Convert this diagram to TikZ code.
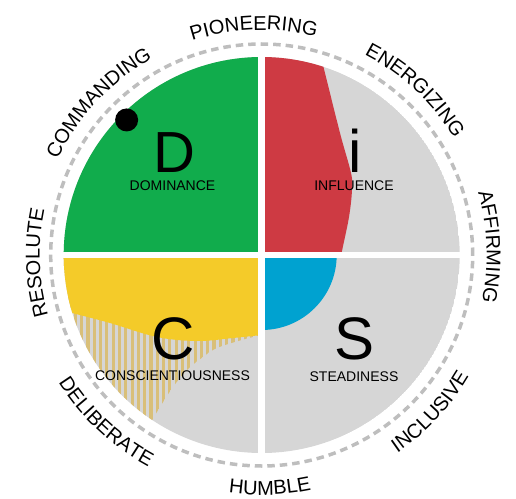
\documentclass[tikz,border=0pt]{standalone}
\usepackage{fontspec}
\setmainfont{Liberation Sans}
\usetikzlibrary{decorations.text}
\definecolor{discgreen}{HTML}{11AC4C}
\definecolor{discred}{HTML}{CE3A43}
\definecolor{discgray}{HTML}{D6D6D6}
\definecolor{discblue}{HTML}{00A2D0}
\definecolor{discyellow}{HTML}{F4CB29}
\definecolor{disctan}{HTML}{D9BF78}
\definecolor{ringgray}{HTML}{BEBEBE}
\newcommand\ringfont{\fontsize{20}{20}\selectfont}
\begin{document}
\begin{tikzpicture}[x=1pt,y=1pt,
  bigletter/.style={inner sep=0pt, anchor=base, font=\fontsize{60}{60}\selectfont},
  smallword/.style={inner sep=0pt, anchor=base, font=\fontsize{14}{14}\selectfont},
  ringtop/.style={decorate, decoration={text along path, text align=center, text={|\ringfont|#1}}},
  ringbottom/.style={decorate, decoration={text along path, text align=center, text={|\ringfont|#1}}}]
\useasboundingbox (-261.7,-243) rectangle (254.3,255);
\begin{scope}
  \clip (0,0) circle[radius=198];
  \fill[discgray] (0,0) circle[radius=198];
  \fill[discgreen] (0,0) -- (-205,0) -- (-205,205) -- (0,205) -- cycle;
  \fill[discred] (0,-2) -- (0,210) -- (58.8,210) -- plot[smooth, tension=0.6] coordinates {(58.8,200) (61.3,190) (78.3,122) (89.3,82) (90.3,65) (87.3,38) (80.3,4) (79.6,-2)} -- cycle;
  \fill[discblue] (0,0) -- (0,-75) arc[start angle=270, end angle=360, radius=75] -- cycle;
  \begin{scope}
    \clip (0,0) -- (0,-80) -- plot[smooth, tension=0.6] coordinates {(0,-80) (-20,-85) (-44.7,-93) (-58.7,-102) (-74.7,-115) (-88.7,-132) (-101.7,-152) (-108.7,-164) (-114,-176)} -- (-250,-176) -- (-250,0) -- cycle;
    \foreach \i in {0,...,33} \fill[disctan] (-2-\i*6.3,0) rectangle ++(-3.1,-200);
  \end{scope}
  \fill[discyellow] (0,0) -- (0,-80) -- plot[smooth, tension=0.6] coordinates {(0,-80) (-28.7,-83) (-64,-86) (-104.7,-82) (-151.7,-68) (-189.7,-58) (-205,-54)} -- (-205,0) -- cycle;
\end{scope}
\draw[white, line width=6.6] (-205,0) -- (205,0);
\draw[white, line width=6.6] (0,-205) -- (0,205);
\node[circle, fill=black, inner sep=0pt, minimum size=23pt] (dot) at (135:191) {};
\draw[ringgray, line width=3.5, dash pattern=on 7.5 off 5] (0,0) circle[radius=211];
\node[bigletter, font=\fontsize{58}{58}\selectfont] (D) at (-87.7,83) {D};
\node[smallword] (dominance) at (-89.2,65) {DOMINANCE};
\node[bigletter] (I) at (93.3,83) {i};
\node[smallword] (influence) at (92.3,64.3) {INFLUENCE};
\node[bigletter] (C) at (-88.7,-104) {C};
\node[smallword] (conscientiousness) at (-89.2,-125) {CONSCIENTIOUSNESS};
\node[bigletter] (S) at (92.8,-104) {S};
\node[smallword] (steadiness) at (92.3,-126) {STEADINESS};
\path[ringtop=PIONEERING] (132:225) arc[start angle=132, end angle=52, radius=225];
\path[ringtop=COMMANDING] (177:225) arc[start angle=177, end angle=97, radius=225];
\path[ringtop=ENERGIZING] (87:225) arc[start angle=87, end angle=7, radius=225];
\path[ringtop=AFFIRMING] (42:225) arc[start angle=42, end angle=-38, radius=225];
\path[ringtop=RESOLUTE] (222:222) arc[start angle=222, end angle=142, radius=222];
\path[ringbottom=DELIBERATE] (187:240) arc[start angle=187, end angle=267, radius=240];
\path[ringbottom=HUMBLE] (232:240) arc[start angle=232, end angle=312, radius=240];
\path[ringbottom=INCLUSIVE] (277:240) arc[start angle=277, end angle=357, radius=240];
\end{tikzpicture}
\end{document}
